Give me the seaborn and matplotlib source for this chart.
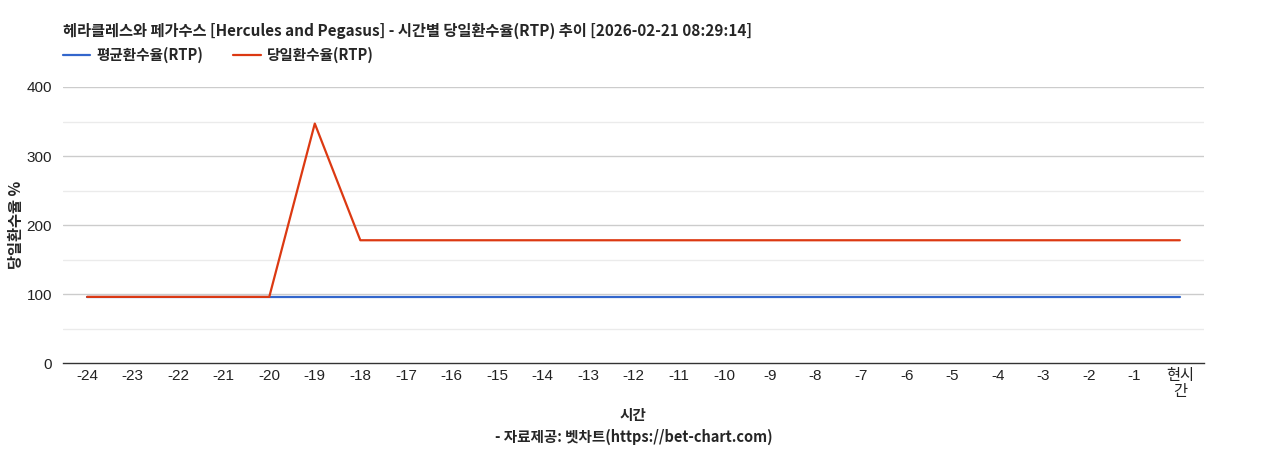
import matplotlib
matplotlib.use("Agg")
import matplotlib.pyplot as plt
import seaborn as sns
import pandas as pd

# --- DATA ---
hours = ["-24", "-23", "-22", "-21", "-20", "-19", "-18", "-17", "-16", "-15", "-14", "-13",
         "-12", "-11", "-10", "-9", "-8", "-7", "-6", "-5", "-4", "-3", "-2", "-1", "현시\n간"]
avg_rtp = [96] * 25
today_rtp = [96, 96, 96, 96, 96, 347, 178, 178, 178, 178, 178, 178,
             178, 178, 178, 178, 178, 178, 178, 178, 178, 178, 178, 178, 178]

TITLE = "헤라클레스와 페가수스 [Hercules and Pegasus] - 시간별 당일환수율(RTP) 추이 [2026-02-21 08:29:14]"
KR = ["Noto Sans CJK KR", "DejaVu Sans"]
NUM = ["Liberation Sans", "Noto Sans CJK KR"]

sns.set_style("white")
plt.rcParams["font.family"] = KR

df = pd.DataFrame({"hour": hours, "avg": avg_rtp, "today": today_rtp})
df["x"] = range(len(df))

fig = plt.figure(figsize=(12.68, 4.5), dpi=100)
ax = fig.add_axes([0.0497, 0.193, 0.8998, 0.6137])

# grid
for v in [50, 150, 250, 350]:
    ax.axhline(v, color="#ebebeb", lw=1, zorder=0)
for v in [100, 200, 300, 400]:
    ax.axhline(v, color="#cccccc", lw=1, zorder=0)

sns.lineplot(data=df, x="x", y="avg", ax=ax, color="#3366cc", lw=1.6, zorder=3)
sns.lineplot(data=df, x="x", y="today", ax=ax, color="#dc3912", lw=1.6, zorder=4)

ax.set_xlim(-0.53, len(hours) - 0.47)
ax.set_ylim(0, 400)
ax.set_yticks([0, 100, 200, 300, 400])
ax.set_xticks(range(len(hours)))
ax.set_xticklabels(hours, family=NUM, fontsize=11, color="#222222", linespacing=1.25, va="top")
ax.set_yticklabels(["0", "100", "200", "300", "400"], family=NUM, fontsize=11, color="#222222")
ax.tick_params(axis="x", length=0, pad=4)
ax.tick_params(axis="y", length=0, pad=8)

for s in ["top", "right", "left"]:
    ax.spines[s].set_visible(False)
ax.spines["bottom"].set_color("#333333")
ax.spines["bottom"].set_linewidth(1)

ax.set_xlabel("")
ax.set_ylabel("")
fig.text(0.0125, 0.5, "당일환수율 %", fontsize=11, fontweight="bold", rotation=90,
         ha="center", va="center")

fig.text(0.0497, 0.932, TITLE, fontsize=11, fontweight="bold", ha="left", va="center")

# legend
lx = 0.0497
fig.add_artist(plt.Line2D([lx, lx + 0.0215], [0.878, 0.878], color="#3366cc", lw=1.6))
fig.text(lx + 0.0265, 0.878, "평균환수율(RTP)", fontsize=10.5, fontweight="bold", va="center")
lx2 = 0.184
fig.add_artist(plt.Line2D([lx2, lx2 + 0.0215], [0.878, 0.878], color="#dc3912", lw=1.6))
fig.text(lx2 + 0.0265, 0.878, "당일환수율(RTP)", fontsize=10.5, fontweight="bold", va="center")

fig.text(0.4995, 0.078, "시간", fontsize=10.5, fontweight="bold", ha="center", va="center")
fig.text(0.4995, 0.029, "- 자료제공: 벳차트(https://bet-chart.com)", fontsize=10.5,
         fontweight="bold", ha="center", va="center")

fig.savefig("out.png", dpi=100)
